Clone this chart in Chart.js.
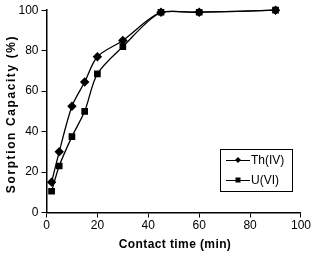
<!DOCTYPE html>
<html><head><meta charset="utf-8">
<script src="https://cdn.jsdelivr.net/npm/chart.js@4.4.1/dist/chart.umd.min.js"></script>
<style>html,body{margin:0;padding:0;background:#fff;}#wrap{width:312px;height:254px;position:relative;}</style>
</head><body><div id="wrap"><canvas id="c" width="312" height="254"></canvas></div>
<script>
const thTimes = [2, 5, 10, 15, 20, 30, 45, 60, 90];
const thValues = [15, 30, 52.5, 64.5, 77, 85, 99, 99, 100];
const uTimes = [2, 5, 10, 15, 20, 30, 45, 60, 90];
const uValues = [10.5, 23, 37.5, 50, 68.5, 82, 99, 99, 100];
const seriesLabels = ['Th(IV)', 'U(VI)'];
const xTicks = [0, 20, 40, 60, 80, 100];
const yTicks = [0, 20, 40, 60, 80, 100];
const xTitle = 'Contact time (min)';
const yTitle = 'Sorption Capacity (%)';

const FONT = 'Liberation Sans, Arial, sans-serif';

const titlesPlugin = {
  id: 'titles',
  afterDraw(chart) {
    const ctx = chart.ctx;
    ctx.save();
    ctx.fillStyle = '#000';
    ctx.font = 'bold 12px ' + FONT;
    ctx.textAlign = 'center';
    ctx.textBaseline = 'middle';
    // y title
    ctx.save();
    ctx.translate(12, 114);
    ctx.rotate(-Math.PI / 2);
    ctx.letterSpacing = '1.6px';
    ctx.fillText(yTitle, 0, 0);
    ctx.restore();
    // x title
    ctx.letterSpacing = '0.4px';
    ctx.fillText(xTitle, 175, 245);
    ctx.restore();
  }
};

const legendPlugin = {
  id: 'boxLegend',
  afterDraw(chart) {
    const ctx = chart.ctx;
    const x0 = 220, y0 = 149, w = 72, h = 42;
    ctx.save();
    ctx.fillStyle = '#fff';
    ctx.fillRect(x0, y0, w, h);
    ctx.strokeStyle = '#000';
    ctx.lineWidth = 1;
    ctx.strokeRect(x0 + 0.5, y0 + 0.5, w, h);
    chart.data.datasets.forEach((ds, i) => {
      const cy = y0 + 11 + i * 20;
      ctx.beginPath();
      ctx.moveTo(x0 + 6, cy + 0.5);
      ctx.lineTo(x0 + 30, cy + 0.5);
      ctx.strokeStyle = '#000';
      ctx.stroke();
      ctx.fillStyle = '#000';
      const mx = x0 + 18;
      if (ds.pointStyle === 'rectRot') {
        ctx.beginPath();
        ctx.moveTo(mx, cy - 3); ctx.lineTo(mx + 3, cy); ctx.lineTo(mx, cy + 3); ctx.lineTo(mx - 3, cy); ctx.closePath(); ctx.fill();
      } else {
        ctx.fillRect(mx - 2.5, cy - 2.5, 5, 5);
      }
      ctx.font = '12px ' + FONT;
      ctx.textBaseline = 'middle';
      ctx.textAlign = 'left';
      ctx.fillText(ds.label, x0 + 31, cy + 1);
    });
    ctx.restore();
  }
};

new Chart(document.getElementById('c'), {
  type: 'scatter',
  data: {
    datasets: [
      { label: seriesLabels[0], data: thTimes.map((t, i) => ({x: t, y: thValues[i]})), showLine: true,
        borderColor: '#000', backgroundColor: '#000', borderWidth: 1.3, pointStyle: 'rectRot', pointRadius: 3.8, pointHoverRadius: 3.8, tension: 0.3, clip: false },
      { label: seriesLabels[1], data: uTimes.map((t, i) => ({x: t, y: uValues[i]})), showLine: true,
        borderColor: '#000', backgroundColor: '#000', borderWidth: 1.3, pointStyle: 'rect', pointRadius: 3.8, pointHoverRadius: 3.8, tension: 0.3, clip: false }
    ]
  },
  options: {
    responsive: false, animation: false, devicePixelRatio: 1,
    layout: { padding: { top: 7, right: 9, left: 0, bottom: 0 } },
    plugins: { legend: { display: false }, tooltip: { enabled: false } },
    scales: {
      x: {
        type: 'linear', min: 0, max: 100,
        afterBuildTicks: s => { s.ticks = xTicks.map(v => ({value: v})); },
        afterFit: s => { s.height = 41.5; },
        grid: { display: true, drawOnChartArea: false, drawTicks: true, tickLength: 5, color: '#000', tickColor: '#000' },
        border: { display: true, color: '#000', width: 1.5 },
        ticks: { color: '#000', font: { family: FONT, size: 12 }, padding: 1, maxRotation: 0 },
        title: { display: false }
      },
      y: {
        type: 'linear', min: 0, max: 100,
        afterBuildTicks: s => { s.ticks = yTicks.map(v => ({value: v})); },
        afterFit: s => { s.width = 46.5; },
        grid: { display: true, drawOnChartArea: false, drawTicks: true, tickLength: 5, color: '#000', tickColor: '#000' },
        border: { display: true, color: '#000', width: 1.5 },
        ticks: { color: '#000', font: { family: FONT, size: 12 }, padding: 3 },
        title: { display: false }
      }
    }
  },
  plugins: [legendPlugin, titlesPlugin]
});
</script></body></html>
